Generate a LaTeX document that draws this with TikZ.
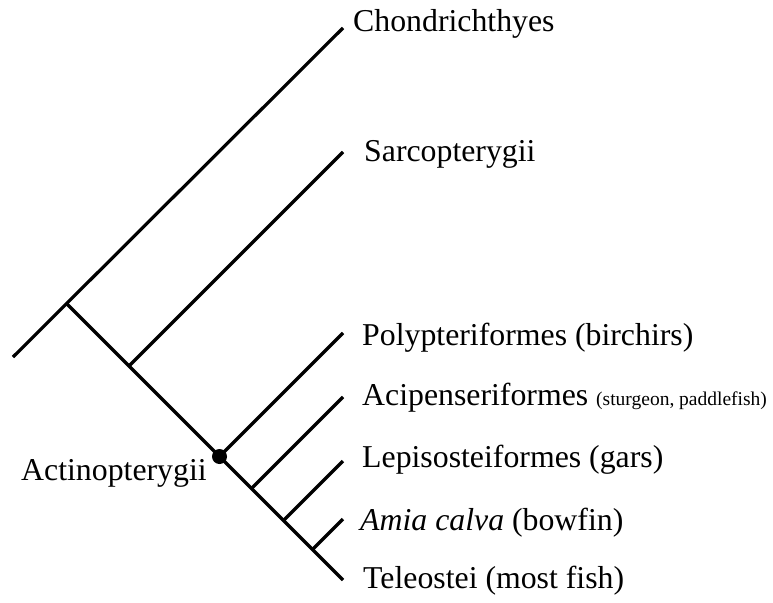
\documentclass[tikz,border=0pt]{standalone}
\usepackage{fontspec}
\setmainfont{Liberation Serif}
\begin{document}
\begin{tikzpicture}[x=1pt,y=-1pt,
  branch/.style={line width=3.2pt,black},
  taxon/.style={anchor=base west,inner sep=0pt,font=\fontsize{31.8}{36}\selectfont}]
\useasboundingbox (0,0) rectangle (773,602);
% coordinates
\coordinate (base) at (13,357);
\coordinate (j0) at (67,304);
\coordinate (j1) at (129,366);
\coordinate (j2) at (219.5,456.5);
\coordinate (j3) at (251.5,488.5);
\coordinate (j4) at (283.5,520.5);
\coordinate (j5) at (312.5,549.5);
\coordinate (tC) at (343,28);
\coordinate (tS) at (343,152);
\coordinate (tP) at (343,333);
\coordinate (tA) at (343,397);
\coordinate (tL) at (343,461);
\coordinate (tM) at (343,519);
\coordinate (tT) at (343,580);
% branches
\draw[branch] (base) -- (tC);
\draw[branch] (j0) -- (tT);
\draw[branch] (j1) -- (tS);
\draw[branch] (j2) -- (tP);
\draw[branch] (j3) -- (tA);
\draw[branch] (j4) -- (tL);
\draw[branch] (j5) -- (tM);
\fill (j2) circle (7.5);
% labels
\node[taxon] (lC) at (353,32) {Chondrichthyes};
\node[taxon] (lS) at (364,161) {Sarcopterygii};
\node[taxon] (lP) at (362,345) {Polypteriformes (birchirs)};
\node[taxon] (lA) at (362,405) {Acipenseriformes {\fontsize{19.5}{20}\selectfont (sturgeon, paddlefish)}};
\node[taxon] (lL) at (362,467) {Lepisosteiformes (gars)};
\node[taxon] (lM) at (360,530) {\textit{Amia calva} (bowfin)};
\node[taxon] (lT) at (363,588) {Teleostei (most fish)};
\node[taxon] (lAct) at (21,480) {Actinopterygii};
\end{tikzpicture}
\end{document}
